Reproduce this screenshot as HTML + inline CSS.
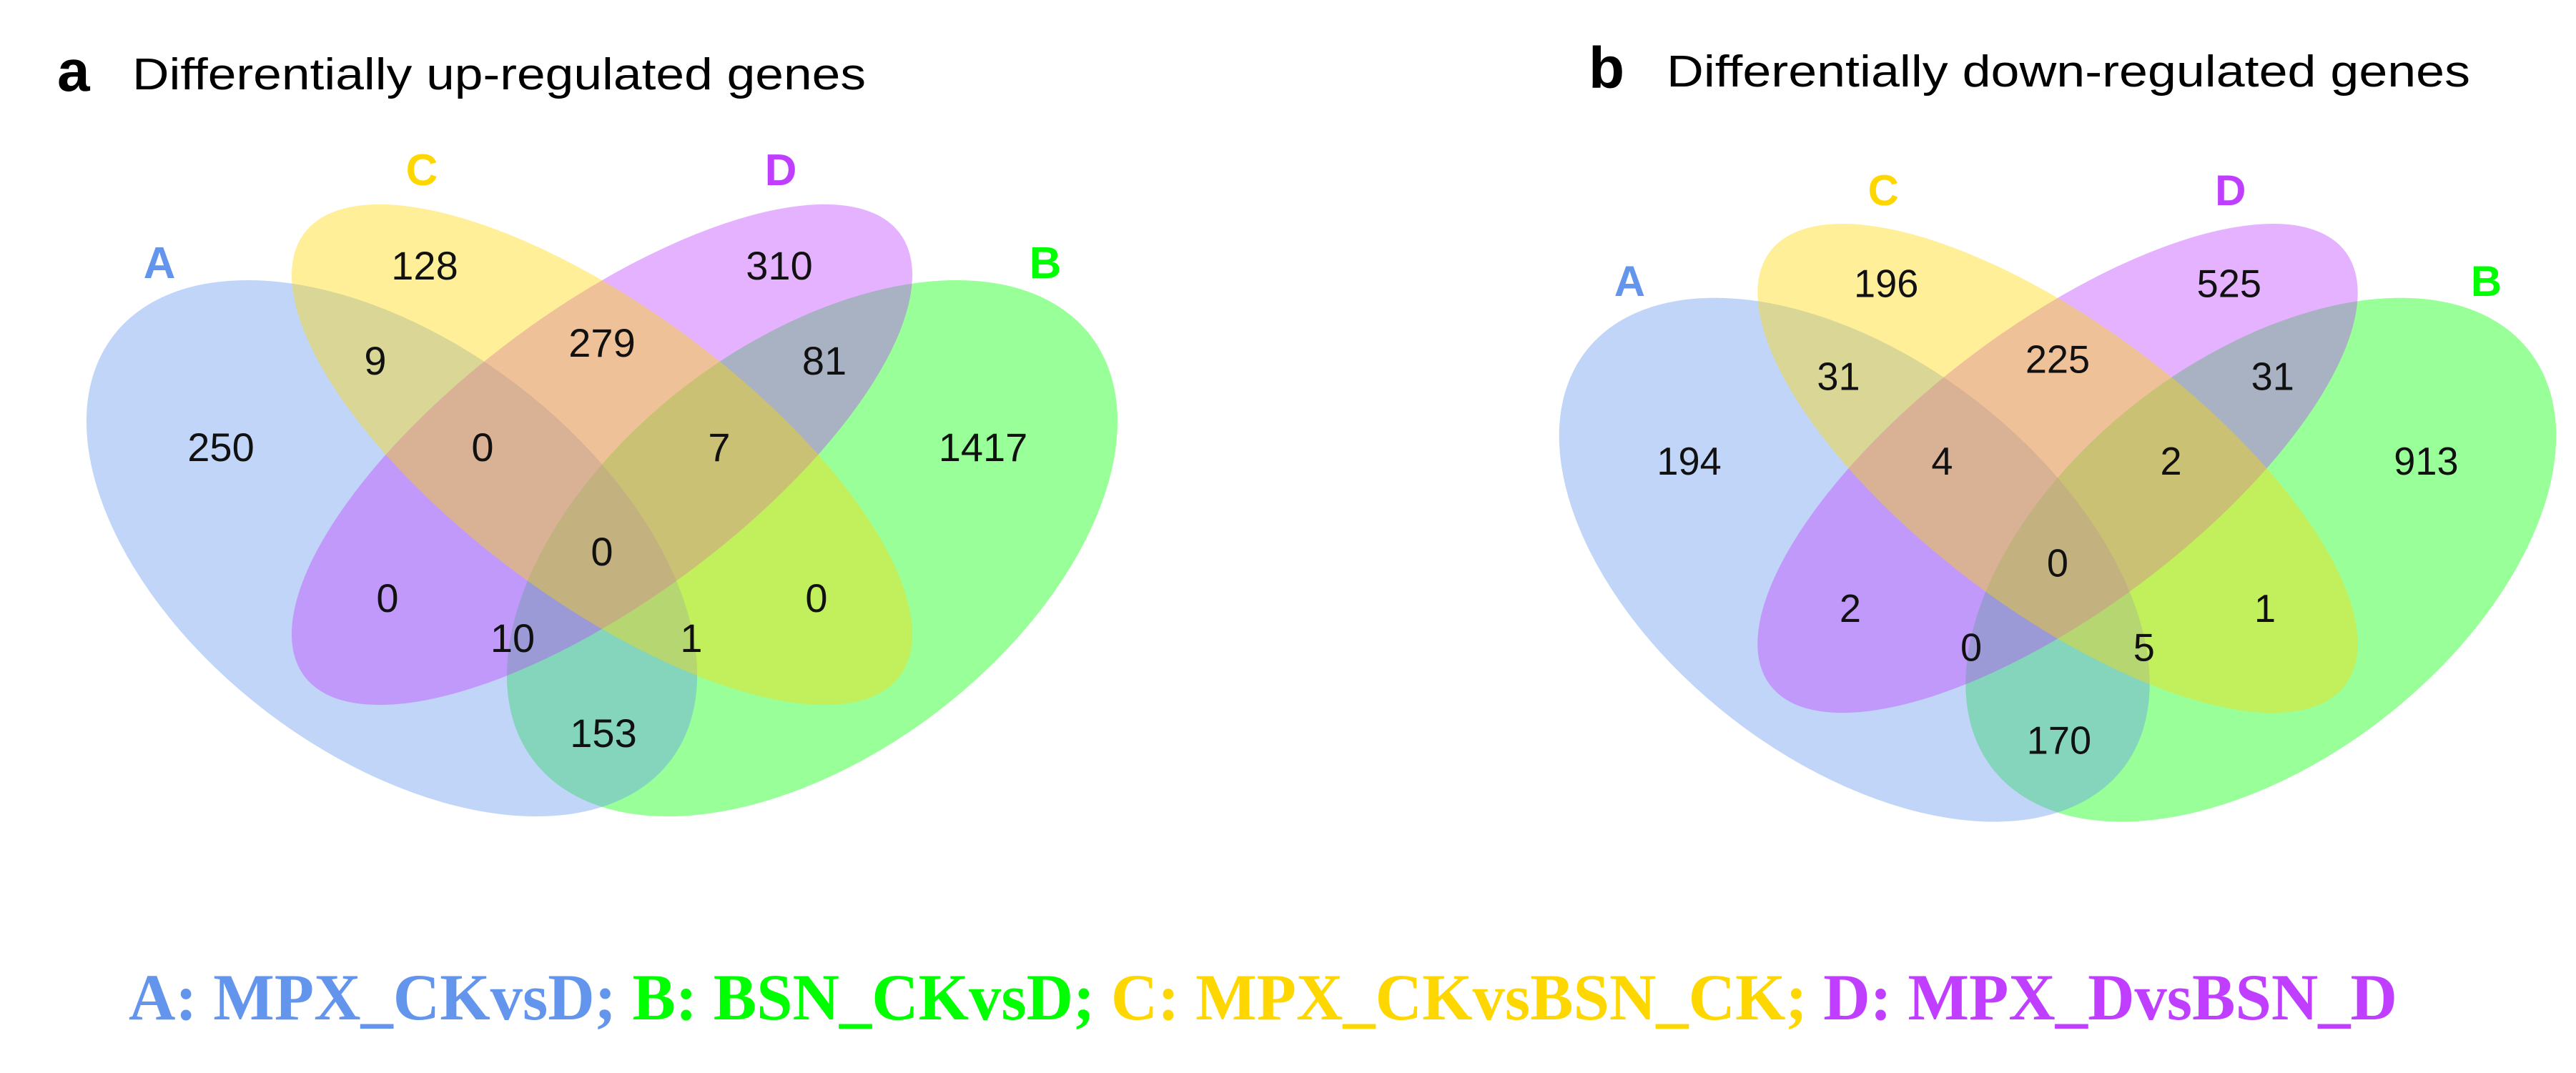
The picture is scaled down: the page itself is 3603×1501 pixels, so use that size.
<!DOCTYPE html>
<html><head><meta charset="utf-8"><style>
html,body{margin:0;padding:0;background:#fff;}
svg{display:block;}
</style></head><body>
<svg id="fig" width="3603" height="1501" viewBox="0 0 3603 1501" xmlns="http://www.w3.org/2000/svg">
<rect width="3603" height="1501" fill="#fff"/>
<g>
<text x="80" y="127" font-family="Liberation Sans, sans-serif" font-weight="bold" font-size="82" fill="#000">a</text>
<text x="185" y="125" font-family="Liberation Sans, sans-serif" font-size="62" fill="#000" textLength="1026" lengthAdjust="spacingAndGlyphs">Differentially up-regulated genes</text>
</g>
<g>
<text x="2222" y="123" font-family="Liberation Sans, sans-serif" font-weight="bold" font-size="82" fill="#000">b</text>
<text x="2331" y="121" font-family="Liberation Sans, sans-serif" font-size="62" fill="#000" textLength="1124" lengthAdjust="spacingAndGlyphs">Differentially down-regulated genes</text>
</g>
<g id="panelA"></g>
<g id="panelB" transform="translate(2878,787) scale(0.967,0.977) translate(-842,-771)"></g>
<text x="180" y="1426" font-family="Liberation Serif, serif" font-weight="bold" font-size="92" textLength="3173" lengthAdjust="spacingAndGlyphs"><tspan fill="#6495ED">A: MPX_CKvsD; </tspan><tspan fill="#00ff00">B: BSN_CKvsD; </tspan><tspan fill="#FFD700">C: MPX_CKvsBSN_CK; </tspan><tspan fill="#BF3EFF">D: MPX_DvsBSN_D</tspan></text>
</svg>
<script>
// set names and colours
const setNames = ["A", "B", "C", "D"];
const setFill = ["#6495ED", "#00ff00", "#FFD700", "#BF3EFF"];
// region order: C only, D only, A∩C, C∩D, B∩D, A only, A∩C∩D, B∩C∩D, B only, all, A∩D, B∩C, A∩B∩D, A∩B∩C, A∩B
const regionKeys = ["C","D","AC","CD","BD","A","ACD","BCD","B","ABCD","AD","BC","ABD","ABC","AB"];
const upValues = [128, 310, 9, 279, 81, 250, 0, 7, 1417, 0, 0, 0, 10, 1, 153];
const downValues = [196, 525, 31, 225, 31, 194, 4, 2, 913, 0, 2, 1, 0, 5, 170];

const NS = "http://www.w3.org/2000/svg";
const drawOrder = [1, 0, 3, 2];
const ellipses = {
  A: {cx: 548, cy: 767, rx: 490, ry: 288, rot: 37.3},
  B: {cx: 1136, cy: 767, rx: 490, ry: 288, rot: -37.3},
  C: {cx: 842, cy: 636, rx: 519, ry: 204, rot: 36.6},
  D: {cx: 842, cy: 636, rx: 519, ry: 204, rot: -36.6}
};
const labelPos = {A: [223, 367], B: [1462, 367], C: [590, 237], D: [1092, 237]};
const regionPos = {C:[594,371], D:[1090,371], AC:[525,504], CD:[842,479], BD:[1153,504],
  A:[309,625], ACD:[675,625], BCD:[1006,625], B:[1375,625], ABCD:[842,771],
  AD:[542,836], BC:[1142,836], ABD:[717,892], ABC:[967,892], AB:[844,1025]};

function build(g, values, prefix) {
  drawOrder.forEach(i => {
    const s = setNames[i];
    const e = ellipses[s];
    const el = document.createElementNS(NS, "ellipse");
    el.setAttribute("cx", e.cx); el.setAttribute("cy", e.cy);
    el.setAttribute("rx", e.rx); el.setAttribute("ry", e.ry);
    el.setAttribute("transform", `rotate(${e.rot} ${e.cx} ${e.cy})`);
    el.setAttribute("fill", setFill[i]); el.setAttribute("fill-opacity", "0.4");
    
    
    g.appendChild(el);
  });
  setNames.forEach((s, i) => {
    const t = document.createElementNS(NS, "text");
    t.setAttribute("x", labelPos[s][0]); t.setAttribute("y", labelPos[s][1] + 22);
    t.setAttribute("text-anchor", "middle");
    t.setAttribute("font-family", "Liberation Sans, sans-serif");
    t.setAttribute("font-weight", "bold"); t.setAttribute("font-size", "62");
    t.setAttribute("fill", setFill[i]);
    t.textContent = s;
    
    
    g.appendChild(t);
  });
  regionKeys.forEach((k, i) => {
    const p = regionPos[k];
    const t = document.createElementNS(NS, "text");
    t.setAttribute("x", p[0]); t.setAttribute("y", p[1] + 20);
    t.setAttribute("text-anchor", "middle");
    t.setAttribute("font-family", "Liberation Sans, sans-serif");
    t.setAttribute("font-size", "56"); t.setAttribute("fill", "#111");
    t.textContent = values[i];
    
    
    g.appendChild(t);
  });
}
build(document.getElementById("panelA"), upValues, "up");
build(document.getElementById("panelB"), downValues, "down");
</script>
</body></html>
